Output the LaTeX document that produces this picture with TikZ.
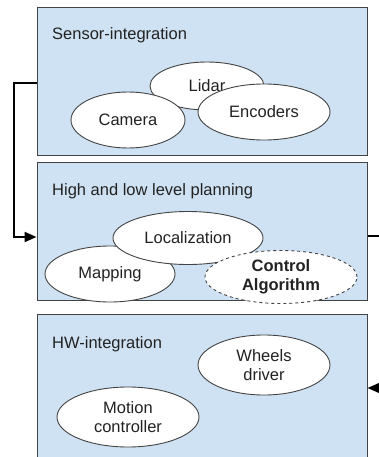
\documentclass[tikz,border=0pt]{standalone}
\usepackage{fontspec}
\setmainfont{Liberation Sans}
\usepackage{tikz}
\usetikzlibrary{shapes.geometric}
\usetikzlibrary{arrows.meta}
\definecolor{layerblue}{HTML}{CFE2F3}
\definecolor{edgegray}{HTML}{434343}
\definecolor{inkgray}{HTML}{222222}
\tikzstyle{layer}=[draw=edgegray,fill=layerblue,line width=1pt,minimum width=330pt,inner sep=0pt]
\tikzstyle{layertitle}=[anchor=base west,inner sep=0pt,text=inkgray,font=\fontsize{16.5}{19.5}\selectfont]
\tikzstyle{module}=[ellipse,draw=edgegray,fill=white,line width=0.9pt,inner sep=0pt,align=center,text=inkgray,font=\fontsize{16.5}{19.5}\selectfont]
\tikzstyle{flow}=[line width=2pt,draw=black,-{Triangle[length=12pt,width=10pt]}]

\begin{document}
\begin{tikzpicture}[x=1pt,y=-1pt]
\useasboundingbox (0,0) rectangle (379,457);
\clip (0,0) rectangle (379,457);
\fill[white] (0,0) rectangle (379,457);
% the three layers
\node[layer,minimum height=148pt] (sensor) at (202,82) {};
\node[layer,minimum height=138pt] (planning) at (202,231) {};
\node[layer,minimum height=160pt] (hw) at (202,394) {};
\node[layertitle] (sensortitle) at (52,40) {Sensor-integration};
\node[layertitle] (planningtitle) at (52,195) {High and low level planning};
\node[layertitle] (hwtitle) at (52,348) {HW-integration};
% sensors
\node[module,minimum width=114pt,minimum height=48pt] (lidar) at (207,86) {Lidar};
\node[module,minimum width=114pt,minimum height=56pt] (camera) at (128,120) {Camera};
\node[module,minimum width=132pt,minimum height=56pt] (encoders) at (264,112) {Encoders};
% planning
\node[module,minimum width=130pt,minimum height=56pt] (mapping) at (110,274) {Mapping};
\node[module,minimum width=150pt,minimum height=53pt] (localization) at (188,238) {Localization};
\node[module,dashed,minimum width=152pt,minimum height=53pt] (control) at (281,277)
	{\textbf{Control}\\\textbf{Algorithm}};
% hardware
\node[module,minimum width=132pt,minimum height=60pt] (wheels) at (264,365) {Wheels\\driver};
\node[module,minimum width=142pt,minimum height=60pt] (motion) at (128,417) {Motion\\controller};
% connectors
\coordinate (L1) at (14,83);
\coordinate (L2) at (14,237);
\coordinate (R1) at (395,236);
\coordinate (R2) at (395,388);
\draw[flow] (sensor.west |- L1) -- (L1) -- (L2) -- (planning.west |- L2);
\draw[flow] (planning.east |- R1) -- (R1) -- (R2) -- (hw.east |- R2);
\end{tikzpicture}
\end{document}
